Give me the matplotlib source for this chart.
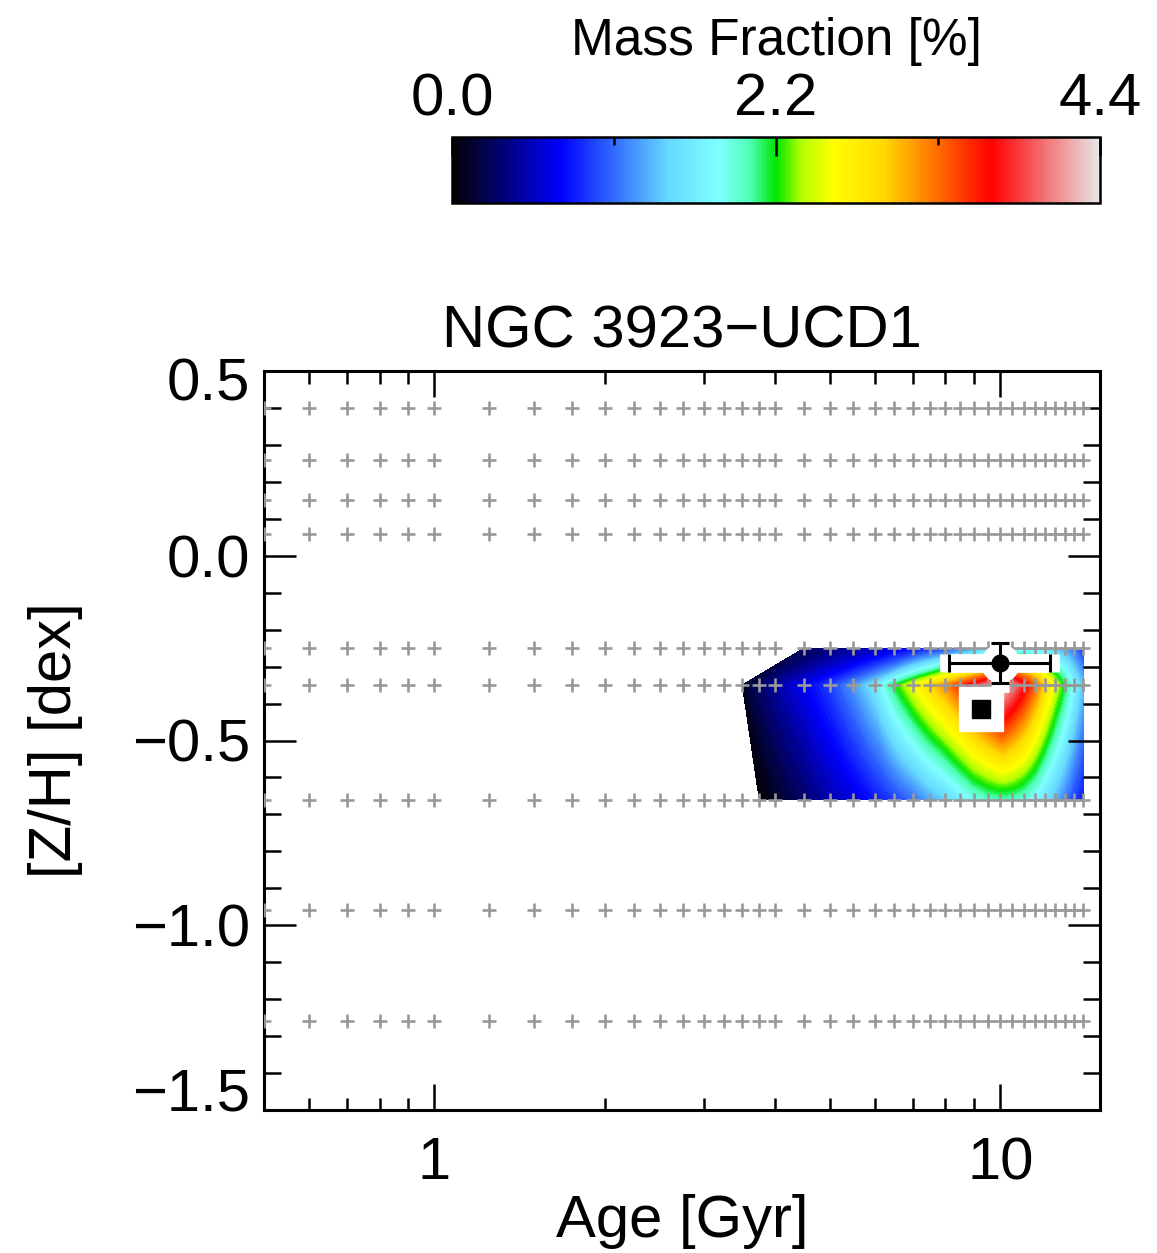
import numpy as np
import matplotlib
matplotlib.use('Agg')
import matplotlib.pyplot as plt
import matplotlib.transforms as mtransforms
from matplotlib.colors import LinearSegmentedColormap, Normalize
from matplotlib.cm import ScalarMappable
from matplotlib.ticker import NullFormatter, LogLocator, MultipleLocator

plt.rcParams['font.family'] = ['Liberation Sans', 'DejaVu Sans']

nan = np.nan

# SSP model grid (BaSTI ages / metallicities)
grid_ages = [0.5, 0.6, 0.7, 0.8, 0.9, 1.0, 1.25, 1.5, 1.75, 2.0, 2.25, 2.5, 2.75,
             3.0, 3.25, 3.5, 3.75, 4.0, 4.5, 5.0, 5.5, 6.0, 6.5, 7.0, 7.5, 8.0,
             8.5, 9.0, 9.5, 10.0, 10.5, 11.0, 11.5, 12.0, 12.5, 13.0, 13.5, 14.0]
grid_metals = [-1.26, -0.96, -0.66, -0.35, -0.25, 0.06, 0.15, 0.26, 0.40]

# mass fraction [%] of the regularised fit, per metallicity row
fit_ages = [3.5, 3.75, 4.0, 4.5, 5.0, 5.5, 6.0, 6.5, 7.0, 7.5, 8.0, 8.5, 9.0,
            9.5, 10.0, 10.5, 11.0, 11.5, 12.0, 12.5, 13.0, 13.5, 14.0]
fit_metals = [-0.66, -0.35, -0.25]
weights_m066 = [nan, 0.0, 0.1, 0.3, 0.5, 0.65, 0.8, 0.95, 1.1, 1.3, 1.45, 1.65,
                1.85, 1.95, 2.0, 1.98, 1.9, 1.75, 1.55, 1.35, 1.15, 0.95, 0.8]
weights_m035 = [0.1, 0.3, 0.45, 0.7, 0.95, 1.25, 1.6, 2.15, 2.55, 2.9, 3.2, 3.5,
                3.8, 4.1, 4.4, 4.1, 3.75, 3.35, 2.9, 2.5, 2.15, 1.75, 1.4]
weights_m025 = [nan, nan, nan, 0.25, 0.35, 0.45, 0.55, 0.65, 0.75, 0.85, 0.95,
                1.1, 1.25, 1.4, 1.55, 1.6, 1.6, 1.55, 1.5, 1.4, 1.25, 1.1, 0.9]

# light-weighted mean and mass-weighted mean
mean_age, mean_age_lo, mean_age_hi = 10.0, 1.9, 2.25
mean_met, mean_met_err = -0.29, 0.055
mw_age, mw_met = 9.26, -0.415

vmin, vmax = 0.0, 4.4

# sauron colour map
cx = [1.0, 43.5, 86.0, 106.0, 118.5, 128.5, 138.5, 151.0, 171.0, 213.5, 256.0]
red = [0.01, 0.0, 0.4, 0.5, 0.3, 0.0, 0.7, 1.0, 1.0, 1.0, 0.9]
green = [0.01, 0.0, 0.85, 1.0, 1.0, 0.9, 1.0, 1.0, 0.85, 0.0, 0.9]
blue = [0.01, 1.0, 1.0, 1.0, 0.7, 0.0, 0.0, 0.0, 0.0, 0.0, 0.9]
xn = (np.array(cx) - 1) / 255.
cdict = {'red': [(a, b, b) for a, b in zip(xn, red)],
         'green': [(a, b, b) for a, b in zip(xn, green)],
         'blue': [(a, b, b) for a, b in zip(xn, blue)]}
sauron = LinearSegmentedColormap('sauron', cdict)
norm = Normalize(vmin, vmax)

fig = plt.figure(figsize=(11.57, 12.53), dpi=100)
ax = fig.add_axes([264 / 1157, 1 - 1110 / 1253, 836 / 1157, 739 / 1253])

# each row of weights in log age, skipping empty cells
rows = []
for met, row in zip(fit_metals, [weights_m066, weights_m035, weights_m025]):
    w = np.array(row)
    ok = np.isfinite(w)
    rows.append((met, np.log10(np.array(fit_ages)[ok]), w[ok]))

# fill between neighbouring rows on a curvilinear mesh
levels = np.linspace(vmin, vmax, 111)
f = np.linspace(0, 1, 160)[:, None]
u = np.linspace(0, 1, 600)[None, :]
for (ma, la, va), (mb, lb, vb) in zip(rows[:-1], rows[1:]):
    right = la[-1]
    left = (1 - f) * la[0] + f * lb[0]
    lx = left + u * (right - left)
    za = np.interp(la[0] + u * (right - la[0]), la, va)
    zb = np.interp(lb[0] + u * (right - lb[0]), lb, vb)
    zz = (1 - f) * za + f * zb
    yy = np.broadcast_to((1 - f) * ma + f * mb, zz.shape)
    ax.contourf(10 ** lx, yy, zz, levels=levels, cmap=sauron, norm=norm,
                antialiased=False, zorder=1)

for met in grid_metals:
    ax.plot(grid_ages, [met] * len(grid_ages), '+', color='0.6', ms=10,
            mew=1.9, zorder=3)

# mean values
ax.errorbar([mean_age], [mean_met], xerr=[[mean_age_lo], [mean_age_hi]],
            yerr=[[mean_met_err], [mean_met_err]], fmt='o', ms=27, mfc='white',
            mec='white', ecolor='white', elinewidth=13.5, capsize=6.8,
            capthick=13.5, zorder=4)
ax.errorbar([mean_age], [mean_met], xerr=[[mean_age_lo], [mean_age_hi]],
            yerr=[[mean_met_err], [mean_met_err]], fmt='o', ms=12, color='k',
            elinewidth=2.2, capsize=6.5, capthick=2.2, zorder=5)
ax.plot([mw_age], [mw_met], 's', ms=31.5, color='white', mec='white', zorder=4)
ax.plot([mw_age], [mw_met], 's', ms=13, color='k', zorder=5)

ax.set_xscale('log')
ax.set_xlim(0.5, 15)
ax.set_ylim(-1.5, 0.5)
ax.set_xticks([1, 10], ['1', '10'])
ax.xaxis.set_minor_locator(LogLocator(subs=np.arange(2, 10)))
ax.xaxis.set_minor_formatter(NullFormatter())
ax.set_yticks([-1.5, -1.0, -0.5, 0.0, 0.5],
              ['\u22121.5', '\u22121.0', '\u22120.5', '0.0', '0.5'])
ax.yaxis.set_minor_locator(MultipleLocator(0.1))

ax.tick_params(which='both', direction='in', top=True, right=True,
               width=1.8, labelsize=43)
ax.tick_params(axis='x', which='major', length=18.5, pad=19)
ax.tick_params(axis='x', which='minor', length=9)
ax.tick_params(axis='y', which='major', length=23, pad=10)
ax.tick_params(axis='y', which='minor', length=12.5)
for sp in ax.spines.values():
    sp.set_linewidth(2.2)

ax.set_title('NGC 3923\u2212UCD1', fontsize=43, pad=17)
ax.set_xlabel('Age [Gyr]', fontsize=43, labelpad=2)
ax.set_ylabel('[Z/H] [dex]', fontsize=43, labelpad=35)

# keep the end labels inside the frame
yt = ax.yaxis.get_major_ticks()
lab = yt[0].label1
lab.set_transform(lab.get_transform() + mtransforms.ScaledTranslation(0, 0.21, fig.dpi_scale_trans))
lab = yt[-1].label1
lab.set_transform(lab.get_transform() + mtransforms.ScaledTranslation(0, -0.08, fig.dpi_scale_trans))

# colour bar
cax = fig.add_axes([452 / 1157, 1 - 203 / 1253, 648 / 1157, 66 / 1253])
cb = fig.colorbar(ScalarMappable(norm=norm, cmap=sauron), cax=cax,
                  orientation='horizontal')
cb.set_ticks([0.0, 2.2, 4.4], labels=['0.0', '2.2', '4.4'])
cb.set_ticks([1.1, 3.3], minor=True)
cax.xaxis.set_ticks_position('top')
cax.tick_params(which='both', direction='in', width=1.8, labelsize=43,
                top=True, bottom=False, labeltop=True, labelbottom=False)
cax.tick_params(which='major', length=14, pad=7)
cax.tick_params(which='minor', length=6)
cb.outline.set_linewidth(1.8)
fig.text(776 / 1157, 1 - 55 / 1253, 'Mass Fraction [%]', ha='center',
         va='baseline', fontsize=37)

fig.savefig('out.png', dpi=100)
